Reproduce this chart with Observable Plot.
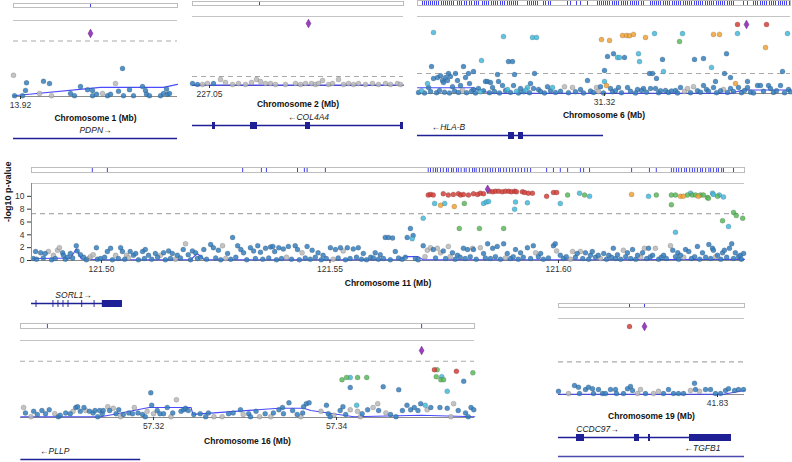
<!DOCTYPE html>
<html><head><meta charset="utf-8">
<script src="https://cdn.jsdelivr.net/npm/d3@7"></script>
<script src="https://cdn.jsdelivr.net/npm/@observablehq/plot@0.6"></script>
<style>
body{margin:0;background:#fff;}
#chart{position:relative;width:792px;height:462px;overflow:hidden;background:#fff;}
#chart svg{position:absolute;background:transparent;overflow:visible;max-width:none;}
</style></head><body><div id="chart"></div>
<script>
// ---------------- DATA ----------------
// SNP rows: [position (Mb), -log10 p, LD bin]  LD bin: 0 r2<0.2, 1 0.2-0.4, 2 0.4-0.6, 3 0.6-0.8, 4 0.8-1, 5 no LD info
const ldBins = [0, 1, 2, 3, 4, 5];
const gwsLine = 7.3;

// Chromosome 1 (PDPN)
const chr1Domain = [13.9193, 13.9357];
const chr1YDomain = [0, 10];
const chr1Ticks = [13.92];
const chr1Snps = [[13.9193,2.8,5],[13.9194,0.1,0],[13.9202,0.1,0],[13.9205,0.8,0],[13.9206,1.8,0],[13.9219,0.4,5],[13.9223,2.0,0],[13.9229,1.7,0],[13.9231,0.1,5],[13.9250,0.4,0],[13.9254,0.1,0],[13.9260,1.3,0],[13.9267,0.9,0],[13.9272,0.8,0],[13.9272,0.1,0],[13.9276,0.3,0],[13.9282,0.4,5],[13.9287,0.1,0],[13.9290,0.3,0],[13.9295,1.7,5],[13.9298,0.7,0],[13.9302,3.7,0],[13.9303,0.1,0],[13.9309,0.9,0],[13.9313,0.1,0],[13.9322,1.3,0],[13.9325,0.8,0],[13.9326,0.3,0],[13.9329,0.1,0],[13.9340,0.1,0],[13.9343,0.4,0],[13.9346,1.0,0],[13.9347,0.3,0],[13.9349,0.4,0]];
const chr1Lead = [[13.9270, 8.3]];
const chr1Bar = [13.9270];
const chr1Recomb = [[13.9193,1],[13.9280,12],[13.9343,12],[13.9357,16]];
const chr1Genes = [{name:"PDPN", strand:"+", start:13.9193, end:13.9357, labelAt:13.9275, exons:[]}];

// Chromosome 2 (COL4A4)
const chr2Domain = [227.0483, 227.0694];
const chr2YDomain = [0, 56];
const chr2Ticks = [227.05];
const chr2Snps = [[227.0483,1.6,0],[227.0488,0.8,0],[227.0493,0.8,5],[227.0498,1.6,5],[227.0504,1.6,0],[227.0511,4.9,5],[227.0516,2.4,5],[227.0523,0.8,5],[227.0529,1.6,5],[227.0536,0.8,5],[227.0542,2.4,5],[227.0547,4.9,5],[227.0551,3.2,5],[227.0556,1.6,5],[227.0561,1.6,5],[227.0566,0.8,5],[227.0576,0.8,5],[227.0586,1.6,5],[227.0591,0.8,5],[227.0596,1.6,5],[227.0602,1.6,5],[227.0606,0.8,5],[227.0609,1.6,5],[227.0613,4.1,5],[227.0619,0.8,5],[227.0623,1.6,5],[227.0629,4.9,5],[227.0634,0.8,5],[227.0639,1.6,5],[227.0644,0.8,5],[227.0649,1.6,5],[227.0656,0.8,5],[227.0663,1.6,5],[227.0669,0.8,5],[227.0676,1.6,5],[227.0681,0.8,5],[227.0688,1.6,5],[227.0691,0.8,5]];
const chr2Lead = [[227.0599, 50.3]];
const chr2Bar = [227.0550];
const chr2Recomb = [[227.0483,0.5],[227.0694,0.5]];
const chr2Genes = [{name:"COL4A4", strand:"-", start:227.0483, end:227.0694, labelAt:227.0599, exons:[[227.0503,227.0506],[227.0541,227.0548],[227.0596,227.0601],[227.0691,227.0694]]}];

// Chromosome 6 (HLA-B)
const chr6Domain = [31.3013, 31.3386];
const chr6YDomain = [0, 28];
const chr6Ticks = [31.32];
const chr6Snps = [
[31.3029,22.2,1],[31.3099,20.7,1],[31.3128,20.4,1],[31.3132,20.4,1],[31.3197,19.6,3],[31.3205,19.3,3],[31.3218,21.1,3],[31.3222,21.1,3],[31.3225,21.0,3],[31.3229,21.5,3],[31.3241,20.4,3],[31.3250,21.8,1],[31.3278,21.8,1],[31.3275,18.9,2],[31.3309,21.5,3],[31.3315,21.5,3],[31.3333,21.8,1],[31.3333,25.1,4],[31.3362,25.1,4],[31.3361,16.7,3],[31.3383,21.8,1],
[31.3203,13.5,0],[31.3209,14.5,0],[31.3213,13.1,1],[31.3215,13.1,1],[31.3220,13.1,0],[31.3234,14.5,1],[31.3235,11.6,1],[31.3258,12.4,0],[31.3290,12.4,0],[31.3299,12.7,0],[31.3322,14.5,0],[31.3307,9.5,1],[31.3200,8.4,0],[31.3077,12.0,1],[31.3104,11.6,0],[31.3108,11.6,0],[31.3027,9.8,0],[31.3059,9.8,0],[31.3069,8.0,0],[31.3110,6.9,0],[31.3130,7.3,0],[31.3245,7.3,0],[31.3248,7.3,0],[31.3259,8.0,1],[31.3378,8.0,0],[31.3320,7.3,0],[31.3326,5.8,0],[31.3331,3.6,3],[31.3202,2.9,3],[31.3200,4.4,1],[31.3183,4.7,0],[31.3252,5.5,0],[31.3343,4.4,0],[31.3311,4.4,0],
[31.3023,3.6,1],[31.3024,2.2,0],[31.3029,5.5,0],[31.3033,5.8,0],[31.3036,6.5,0],[31.3038,4.7,0],[31.3039,4.0,0],[31.3041,5.8,0],[31.3043,4.7,0],[31.3044,7.3,0],[31.3046,6.2,0],[31.3048,2.5,0],[31.3051,7.3,0],[31.3053,4.7,0],[31.3056,2.9,0],[31.3061,5.8,0],[31.3065,3.6,0],[31.3064,7.3,0],[31.3069,1.5,0],[31.3074,1.8,0],[31.3081,4.4,0],[31.3083,4.4,0],[31.3086,4.0,0],[31.3088,2.2,0],[31.3093,6.9,0],[31.3094,4.4,0],[31.3098,2.9,0],[31.3103,1.5,1],[31.3109,2.9,0],[31.3116,1.8,0],[31.3123,2.2,1],[31.3126,3.6,0],[31.3129,1.8,0],[31.3134,1.5,0],[31.3143,2.5,0],[31.3148,2.2,1],[31.3160,2.5,5],[31.3168,2.2,5],[31.3176,1.5,0],[31.3192,2.2,5],[31.3196,2.5,0],[31.3206,1.8,0],[31.3214,2.2,0],[31.3223,2.2,0],[31.3233,1.5,0],[31.3239,1.8,0],[31.3246,1.8,0],[31.3251,1.8,0],[31.3261,1.1,0],[31.3271,1.1,0],[31.3276,2.2,0],[31.3283,1.8,5],[31.3289,2.5,5],[31.3299,2.9,0],[31.3302,1.5,0],[31.3309,2.2,0],[31.3319,1.5,5],[31.3326,1.8,0],[31.3334,2.2,0],[31.3343,2.2,0],[31.3353,2.9,0],[31.3356,2.9,0],[31.3364,2.9,0],[31.3366,1.8,0],[31.3376,2.9,0],[31.3384,1.5,0],
[31.3014,0.4,0],[31.3017,1.0,1],[31.3020,0.2,0],[31.3026,0.7,0],[31.3032,0.3,0],[31.3035,1.1,0],[31.3040,0.5,0],[31.3045,0.2,0],[31.3050,0.9,0],[31.3054,0.4,0],[31.3058,1.2,5],[31.3062,0.3,0],[31.3067,0.8,0],[31.3071,0.2,0],[31.3076,0.6,1],[31.3079,1.0,0],[31.3085,0.3,0],[31.3090,0.7,0],[31.3095,0.2,0],[31.3101,1.1,0],[31.3106,0.4,0],[31.3112,0.8,1],[31.3114,0.2,0],[31.3119,0.6,0],[31.3121,1.2,1],[31.3125,0.3,0],[31.3136,0.7,0],[31.3140,0.2,0],[31.3146,1.0,0],[31.3151,0.4,0],[31.3156,0.8,0],[31.3164,0.3,0],[31.3171,0.6,0],[31.3179,0.2,0],[31.3186,0.9,0],[31.3189,0.4,0],[31.3194,0.7,5],[31.3199,0.2,0],[31.3208,0.6,0],[31.3211,1.0,0],[31.3217,0.3,0],[31.3226,0.8,0],[31.3231,0.2,0],[31.3237,1.1,0],[31.3242,0.5,0],[31.3254,0.3,0],[31.3256,1.0,0],[31.3264,0.4,0],[31.3267,0.9,0],[31.3273,0.2,0],[31.3280,0.7,5],[31.3286,0.3,0],[31.3293,1.0,0],[31.3296,0.5,0],[31.3304,0.8,0],[31.3312,0.3,0],[31.3316,1.0,0],[31.3323,0.4,0],[31.3329,0.7,0],[31.3337,0.3,0],[31.3340,1.1,0],[31.3346,0.5,0],[31.3349,0.2,0],[31.3359,0.8,0],[31.3369,0.4,0],[31.3372,1.0,0],[31.3380,0.3,0],[31.3386,0.6,0]];
const chr6Lead = [[31.3342, 25.1]];
const chr6Bar = [31.3018,31.3020,31.3022,31.3024,31.3026,31.3028,31.3030,31.3032,31.3034,31.3037,31.3039,31.3041,31.3043,31.3045,31.3047,31.3049,31.3053,31.3055,31.3057,31.3060,31.3062,31.3065,31.3067,31.3070,31.3072,31.3074,31.3078,31.3080,31.3082,31.3084,31.3087,31.3089,31.3091,31.3093,31.3096,31.3098,31.3100,31.3103,31.3105,31.3107,31.3109,31.3111,31.3113,31.3123,31.3125,31.3127,31.3129,31.3131,31.3133,31.3139,31.3141,31.3144,31.3146,31.3163,31.3166,31.3172,31.3176,31.3183,31.3193,31.3195,31.3197,31.3199,31.3201,31.3203,31.3205,31.3208,31.3210,31.3212,31.3214,31.3217,31.3219,31.3221,31.3223,31.3226,31.3228,31.3230,31.3232,31.3234,31.3237,31.3239,31.3246,31.3248,31.3250,31.3252,31.3254,31.3256,31.3259,31.3261,31.3263,31.3265,31.3268,31.3270,31.3272,31.3274,31.3276,31.3279,31.3281,31.3283,31.3285,31.3287,31.3290,31.3292,31.3294,31.3296,31.3298,31.3301,31.3303,31.3305,31.3307,31.3309,31.3312,31.3314,31.3316,31.3318,31.3320,31.3323,31.3325,31.3327,31.3329,31.3339,31.3343,31.3349,31.3351,31.3353,31.3356,31.3358,31.3360,31.3362,31.3365,31.3367,31.3369,31.3371,31.3374,31.3376,31.3378,31.3380,31.3382,31.3385];
const chr6Recomb = [[31.3013,7.5],[31.3068,7.5],[31.3086,0.4],[31.3326,0.4],[31.3339,4.6],[31.3386,4.6]];
const chr6Genes = [{name:"HLA-B", strand:"-", start:31.3013, end:31.3199, labelAt:31.3044, exons:[[31.3104,31.3110],[31.3114,31.3119]]}];

// Chromosome 11 (SORL1) — main panel
const chr11Domain = [121.4847, 121.6407];
const chr11YDomain = [0, 12];
const chr11Ticks = [121.50, 121.55, 121.60];
const chr11YTicks = [0, 2, 4, 6, 8, 10];
const chr11Snps = [
[121.5715,10.2,4],[121.5720,10.3,4],[121.5726,10.2,4],[121.5748,10.4,4],[121.5759,10.2,4],[121.5770,10.3,4],[121.5781,10.4,4],[121.5786,10.2,4],[121.5792,10.3,4],[121.5803,10.2,4],[121.5814,10.4,4],[121.5823,10.3,4],[121.5829,10.5,4],[121.5836,10.4,4],[121.5849,10.8,4],[121.5856,10.7,4],[121.5862,10.8,4],[121.5869,10.8,4],[121.5877,10.7,4],[121.5884,10.8,4],[121.5891,10.8,4],[121.5897,10.7,4],[121.5904,10.8,4],[121.5908,10.7,4],[121.5921,10.7,4],[121.5926,10.6,4],[121.5934,10.5,4],[121.5943,10.5,4],[121.5974,10.0,4],[121.5989,10.6,4],[121.5996,10.6,4],
[121.5729,8.9,1],[121.5742,8.6,3],[121.5751,8.9,1],[121.5772,8.4,3],[121.5794,8.9,2],[121.5836,8.9,1],[121.5842,9.1,1],[121.5847,9.2,1],[121.5904,8.0,1],[121.5906,9.1,1],[121.5932,9.0,1],[121.6004,8.9,1],[121.6020,10.2,2],[121.6046,10.5,1],[121.6057,10.2,2],[121.6068,10.0,1],[121.6160,10.3,3],[121.6197,10.0,1],[121.6214,10.2,2],
[121.6247,10.2,2],[121.6256,10.2,2],[121.6267,10.0,3],[121.6273,10.0,3],[121.6282,10.2,2],[121.6289,10.5,1],[121.6293,10.2,2],[121.6300,10.2,2],[121.6306,10.0,3],[121.6311,10.2,2],[121.6317,10.2,2],[121.6326,9.8,2],[121.6328,9.7,2],[121.6337,10.5,1],[121.6339,10.3,1],[121.6348,10.0,2],[121.6352,10.2,1],[121.6361,9.9,1],
[121.6247,8.7,2],[121.6383,7.5,2],[121.6389,7.0,2],[121.6403,6.6,2],[121.6359,6.2,2],[121.6372,5.3,1],[121.6256,4.4,1],[121.5704,6.6,1],[121.5783,5.0,2],[121.5827,5.0,2],[121.5880,5.0,2],
[121.4851,0.3,0],[121.4856,1.4,0],[121.4858,0.2,0],[121.4867,1.2,0],[121.4873,0.4,0],[121.4877,1.1,0],[121.4884,1.4,5],[121.4891,0.1,0],[121.4895,0.8,5],[121.4899,0.3,0],[121.4904,1.6,5],[121.4908,2.0,5],[121.4915,1.2,0],[121.4917,0.8,0],[121.4921,0.2,0],[121.4926,0.5,0],[121.4932,1.1,0],[121.4937,0.4,0],[121.4945,2.3,0],[121.4947,1.5,0],[121.4954,0.9,0],[121.4961,0.5,0],[121.4967,0.1,0],[121.4972,0.3,5],[121.4976,0.6,5],[121.4982,0.9,5],[121.4989,2.0,0],[121.4991,0.2,0],[121.4998,0.3,0],[121.5007,0.5,0],[121.5013,1.4,0],[121.5020,1.9,0],[121.5024,0.1,0],[121.5031,0.8,5],[121.5037,0.3,0],[121.5042,2.0,0],[121.5046,1.4,0],[121.5051,0.2,0],[121.5055,0.8,5],[121.5059,0.4,5],[121.5063,1.4,0],[121.5070,0.8,0],[121.5075,1.1,0],[121.5081,0.1,0],[121.5090,1.4,0],[121.5094,0.3,0],[121.5096,1.7,0],[121.5103,0.8,0],[121.5110,0.2,0],[121.5118,1.1,0],[121.5123,0.5,0],[121.5129,0.8,5],[121.5136,1.2,0],[121.5140,0.1,0],[121.5147,1.5,0],[121.5151,0.3,0],[121.5155,1.1,0],[121.5162,0.2,5],[121.5166,0.8,0],[121.5173,0.4,0],[121.5179,1.7,0],[121.5184,2.6,5],[121.5190,0.9,0],[121.5195,0.1,0],[121.5199,1.5,0],[121.5206,1.2,0],[121.5210,0.3,0],[121.5217,0.5,0],[121.5224,1.7,0],[121.5230,0.2,0],[121.5239,2.5,0],[121.5245,2.0,0],[121.5250,0.4,0],[121.5256,1.6,0],[121.5261,0.1,0],[121.5265,2.3,5],[121.5272,0.3,5],[121.5276,1.1,0],[121.5283,0.2,0],[121.5287,3.6,0],[121.5294,0.5,0],[121.5298,2.3,0],[121.5305,1.7,0],[121.5311,1.2,0],[121.5318,0.1,0],[121.5326,2.0,0],[121.5333,1.5,0],[121.5337,0.3,0],[121.5342,2.3,0],[121.5348,1.3,0],[121.5353,0.2,0],[121.5359,1.9,0],[121.5366,0.4,0],[121.5370,2.1,0],[121.5375,2.2,0],[121.5379,1.4,0],[121.5383,0.1,0],[121.5388,2.0,0],[121.5394,0.3,0],[121.5398,1.8,0],[121.5405,0.5,5],[121.5409,2.2,0],[121.5416,0.2,0],[121.5424,2.3,0],[121.5429,1.7,0],[121.5433,0.1,0],[121.5439,1.2,5],[121.5446,0.4,0],[121.5450,2.2,0],[121.5457,0.2,0],[121.5461,1.6,0],[121.5468,0.5,0],[121.5474,1.2,0],[121.5481,0.1,0],[121.5485,0.8,0],[121.5492,0.3,0],[121.5501,2.0,0],[121.5507,0.2,5],[121.5512,1.7,0],[121.5518,0.4,0],[121.5523,2.0,0],[121.5529,1.5,5],[121.5534,0.1,0],[121.5538,2.0,0],[121.5544,0.3,0],[121.5551,1.8,0],[121.5558,0.5,0],[121.5562,2.0,0],[121.5569,0.2,0],[121.5573,1.1,0],[121.5580,0.1,0],[121.5589,0.5,0],[121.5595,0.4,0],[121.5599,1.2,0],[121.5606,0.2,0],[121.5610,0.9,0],[121.5617,0.3,0],[121.5621,3.6,0],[121.5628,3.6,0],[121.5632,0.1,0],[121.5637,3.5,0],[121.5643,1.4,0],[121.5650,0.4,0],[121.5658,0.2,0],[121.5665,0.5,0],[121.5669,3.6,0],[121.5676,5.0,0],[121.5680,3.4,1],[121.5682,3.9,0],[121.5687,0.3,0],[121.5693,0.1,0],[121.5704,2.3,0],[121.5708,0.6,5],[121.5713,1.6,5],[121.5720,2.0,5],[121.5726,1.7,0],[121.5731,0.4,0],[121.5735,1.9,5],[121.5742,1.2,5],[121.5748,1.5,0],[121.5753,0.3,0],[121.5759,2.2,5],[121.5763,0.6,5],[121.5768,1.2,0],[121.5774,0.2,0],[121.5779,0.8,0],[121.5785,0.5,0],[121.5792,1.9,0],[121.5796,0.3,0],[121.5801,1.7,0],[121.5807,0.6,0],[121.5812,1.9,5],[121.5814,1.7,0],[121.5820,0.2,0],[121.5829,2.0,5],[121.5836,1.1,0],[121.5840,0.4,0],[121.5845,2.6,0],[121.5851,0.3,0],[121.5856,1.9,0],[121.5862,0.6,0],[121.5866,2.2,0],[121.5873,0.2,0],[121.5880,2.6,0],[121.5884,0.4,5],[121.5888,1.1,0],[121.5895,0.3,0],[121.5901,0.6,0],[121.5906,1.7,0],[121.5912,0.2,0],[121.5917,1.2,0],[121.5923,0.5,0],[121.5932,2.0,0],[121.5939,0.3,0],[121.5945,2.3,0],[121.5950,1.2,5],[121.5956,0.6,0],[121.5961,1.1,0],[121.5967,0.2,0],[121.5978,0.4,0],[121.5989,2.3,0],[121.5993,2.6,0],[121.5996,1.5,5],[121.6004,0.8,0],[121.6011,0.3,0],[121.6017,0.6,0],[121.6026,0.2,5],[121.6031,1.4,5],[121.6037,0.5,0],[121.6041,1.1,0],[121.6048,1.4,5],[121.6053,0.3,0],[121.6059,1.2,0],[121.6066,0.2,0],[121.6070,0.8,0],[121.6074,1.4,0],[121.6081,0.5,0],[121.6087,0.8,0],[121.6092,0.3,5],[121.6099,1.1,0],[121.6105,0.2,0],[121.6110,0.8,0],[121.6116,0.5,0],[121.6120,1.9,0],[121.6125,0.3,0],[121.6129,0.9,0],[121.6136,0.2,0],[121.6142,1.6,5],[121.6147,0.6,0],[121.6151,1.2,0],[121.6158,0.3,0],[121.6162,1.7,0],[121.6169,0.2,0],[121.6173,0.8,0],[121.6180,0.5,5],[121.6184,1.2,0],[121.6188,1.9,5],[121.6193,0.3,0],[121.6197,1.9,0],[121.6201,0.6,0],[121.6206,0.8,0],[121.6212,1.9,5],[121.6219,0.2,0],[121.6225,0.5,0],[121.6230,0.8,0],[121.6236,0.3,0],[121.6245,2.3,5],[121.6250,1.6,0],[121.6256,0.6,0],[121.6261,1.2,0],[121.6263,0.2,0],[121.6267,0.8,0],[121.6274,0.5,5],[121.6278,1.7,0],[121.6285,1.4,0],[121.6291,0.3,0],[121.6298,0.6,0],[121.6304,2.2,0],[121.6309,0.2,0],[121.6315,1.2,0],[121.6322,0.5,0],[121.6329,2.5,0],[121.6333,0.3,0],[121.6337,1.9,0],[121.6339,1.6,0],[121.6344,0.6,5],[121.6348,0.8,0],[121.6355,0.2,0],[121.6359,1.2,0],[121.6363,1.6,0],[121.6368,0.5,0],[121.6374,1.9,0],[121.6379,2.6,0],[121.6383,0.3,0],[121.6387,1.2,0],[121.6394,0.6,0],[121.6398,0.8,0],[121.6400,0.2,0],[121.6405,1.1,0]];
const chr11Lead = [[121.5845, 11.1]];
const chr11Bar = [121.4980,121.5013,121.5309,121.5350,121.5361,121.5429,121.5444,121.5450,121.5490,121.5715,121.5720,121.5726,121.5731,121.5735,121.5742,121.5748,121.5755,121.5759,121.5766,121.5770,121.5777,121.5781,121.5787,121.5794,121.5798,121.5805,121.5812,121.5816,121.5820,121.5827,121.5834,121.5840,121.5845,121.5851,121.5856,121.5862,121.5869,121.5873,121.5880,121.5886,121.5893,121.5899,121.5906,121.5912,121.5919,121.5926,121.5932,121.5939,121.5974,121.5989,121.6004,121.6020,121.6048,121.6055,121.6068,121.6160,121.6199,121.6214,121.6247,121.6252,121.6258,121.6263,121.6269,121.6276,121.6280,121.6287,121.6293,121.6298,121.6304,121.6311,121.6315,121.6322,121.6329,121.6333,121.6339,121.6346,121.6350,121.6357,121.6361,121.6383];
const chr11Recomb = [[121.4847,2.5],[121.4910,3],[121.4932,3],[121.4945,15],[121.4956,2],[121.4998,1],[121.5195,1],[121.5210,9],[121.5225,1],[121.5654,1],[121.5665,5],[121.5693,5],[121.5704,1],[121.6092,1],[121.6407,1.5]];
const chr11Genes = [{name:"SORL1", strand:"+", start:121.4847, end:121.5046, labelAt:121.4939, exons:[[121.4857,121.4859],[121.4894,121.4896],[121.4905,121.4907],[121.4916,121.4918],[121.4927,121.4929],[121.4957,121.4959],[121.4984,121.4986],[121.5002,121.5046]]}];

// Chromosome 16 (PLLP)
const chr16Domain = [57.30546, 57.35508];
const chr16YDomain = [0, 10];
const chr16Ticks = [57.32, 57.34];
const chr16Snps = [[57.3058,1.3,5],[57.3060,0.6,0],[57.3066,0.1,5],[57.3069,0.8,0],[57.3073,0.4,0],[57.3078,0.9,0],[57.3082,0.5,0],[57.3086,1.0,0],[57.3092,0.5,5],[57.3096,0.1,0],[57.3098,0.3,0],[57.3104,0.6,0],[57.3109,0.5,0],[57.3112,0.8,5],[57.3115,1.3,0],[57.3117,1.4,0],[57.3120,0.8,0],[57.3124,1.3,0],[57.3126,0.9,5],[57.3130,0.8,0],[57.3134,0.6,0],[57.3136,0.9,0],[57.3139,0.1,0],[57.3141,0.9,0],[57.3144,0.5,0],[57.3145,0.9,0],[57.3150,1.4,5],[57.3152,0.9,0],[57.3156,1.2,5],[57.3159,0.5,0],[57.3162,1.0,0],[57.3164,0.1,5],[57.3167,0.4,0],[57.3173,0.6,0],[57.3177,0.5,0],[57.3179,1.3,5],[57.3183,0.6,0],[57.3188,0.4,0],[57.3191,0.1,0],[57.3193,0.8,5],[57.3197,3.2,0],[57.3198,1.6,0],[57.3200,0.5,5],[57.3204,0.9,0],[57.3207,0.5,0],[57.3211,0.5,0],[57.3215,1.3,0],[57.3219,0.1,5],[57.3221,0.6,0],[57.3225,2.3,5],[57.3230,0.8,0],[57.3233,1.0,0],[57.3235,1.2,0],[57.3238,0.9,0],[57.3244,0.4,0],[57.3251,0.5,0],[57.3257,0.1,0],[57.3260,0.6,0],[57.3266,0.1,5],[57.3275,0.1,5],[57.3282,0.5,0],[57.3287,0.6,0],[57.3295,1.0,0],[57.3298,0.4,5],[57.3304,0.5,0],[57.3306,0.1,0],[57.3312,0.8,0],[57.3316,0.1,5],[57.3322,0.5,0],[57.3328,0.1,5],[57.3331,0.6,0],[57.3337,1.0,0],[57.3341,1.3,0],[57.3342,0.5,0],[57.3348,1.9,0],[57.3352,0.9,0],[57.3357,0.4,0],[57.3361,0.1,5],[57.3363,0.6,0],[57.3364,1.4,0],[57.3367,1.8,0],[57.3370,1.9,0],[57.3383,0.8,5],[57.3389,1.6,0],[57.3391,0.5,0],[57.3393,0.1,0],[57.3397,0.3,5],[57.3404,0.9,0],[57.3406,4.9,2],[57.3407,1.4,0],[57.3410,0.4,0],[57.3411,5.2,2],[57.3415,1.0,5],[57.3415,5.2,1],[57.3415,3.9,0],[57.3422,1.6,1],[57.3423,0.8,5],[57.3423,5.2,2],[57.3426,0.1,5],[57.3428,0.5,0],[57.3433,5.2,2],[57.3434,1.0,0],[57.3440,1.3,5],[57.3445,1.8,5],[57.3446,0.9,0],[57.3451,4.0,0],[57.3454,0.6,5],[57.3459,0.4,0],[57.3465,0.1,0],[57.3468,3.6,0],[57.3472,0.9,0],[57.3477,1.6,0],[57.3481,1.0,0],[57.3485,1.3,0],[57.3489,0.9,0],[57.3492,1.8,0],[57.3497,1.6,1],[57.3499,1.0,5],[57.3503,1.3,0],[57.3507,6.2,4],[57.3510,6.2,2],[57.3509,5.3,2],[57.3513,1.3,0],[57.3514,4.9,2],[57.3515,5.3,1],[57.3517,4.9,2],[57.3521,3.4,1],[57.3521,1.2,0],[57.3525,0.1,5],[57.3528,1.8,5],[57.3531,6.0,4],[57.3533,0.9,0],[57.3539,4.7,0],[57.3541,0.6,0],[57.3544,0.1,0],[57.3547,1.3,0],[57.3549,5.8,2],[57.3550,1.0,0]];
const chr16Lead = [[57.3493, 8.7]];
const chr16Bar = [57.3084, 57.3493];
const chr16Recomb = [[57.3055,1],[57.3142,1],[57.3156,4],[57.3195,13],[57.3241,13],[57.3243,4],[57.3337,12],[57.3364,12],[57.3372,9],[57.3419,1],[57.3492,3],[57.3551,1]];
const chr16Genes = [{name:"PLLP", strand:"-", start:57.3055, end:57.3186, labelAt:57.3092, exons:[]}];

// Chromosome 19 (CCDC97 / TGFB1)
const chr19Domain = [41.8141, 41.8327];
const chr19YDomain = [0, 17];
const chr19Ticks = [41.83];
const chr19Snps = [[41.8141,0.7,0],[41.8151,0.2,5],[41.8157,2.0,0],[41.8161,1.6,0],[41.8162,0.2,0],[41.8168,1.1,0],[41.8171,1.6,0],[41.8175,1.3,0],[41.8176,0.2,0],[41.8181,1.1,0],[41.8185,0.2,0],[41.8188,0.2,0],[41.8193,1.1,0],[41.8198,1.1,0],[41.8199,0.2,0],[41.8206,0.2,0],[41.8210,1.3,0],[41.8213,1.8,0],[41.8215,0.9,0],[41.8220,0.2,5],[41.8223,1.1,5],[41.8228,0.2,0],[41.8236,0.2,5],[41.8241,0.7,5],[41.8246,0.2,0],[41.8251,1.1,0],[41.8256,0.2,0],[41.8261,0.2,0],[41.8266,0.2,0],[41.8273,0.9,5],[41.8277,2.5,0],[41.8278,1.1,0],[41.8282,0.7,5],[41.8288,1.1,0],[41.8293,1.1,0],[41.8298,0.2,0],[41.8303,0.2,0],[41.8308,0.9,0],[41.8311,1.3,0],[41.8317,0.9,0],[41.8321,1.1,0],[41.8326,1.1,0],[41.8212,15.2,4]];
const chr19Lead = [[41.8227, 15.2]];
const chr19Bar = [41.8212, 41.8227];
const chr19Recomb = [[41.8141,0.3],[41.8306,0.3],[41.8327,5.3]];
const chr19Genes = [
  {name:"CCDC97", strand:"+", start:41.8141, end:41.8314, labelAt:41.8180, exons:[[41.8159,41.8167],[41.8217,41.8222],[41.8231,41.8233],[41.8272,41.8314]]},
  {name:"TGFB1", strand:"-", start:41.8141, end:41.8327, labelAt:41.8285, exons:[]}
];

// ---------------- DRAWING ----------------
const LD_COLORS = ["#357ebd", "#46b8da", "#5cb85c", "#eea236", "#d43f3a", "#b8b8b8"];
const GENE_COLORS = ["#1f1f96", "#4a4ab2"];
const FONT = {fontFamily: '"Liberation Sans", Arial, Helvetica, sans-serif', fontSize: "8.5px", background: "transparent", overflow: "visible", color: "#222"};
const root = document.getElementById("chart");
function place(svg, left, top) { svg.style.left = left + "px"; svg.style.top = top + "px"; root.appendChild(svg); }

const tallDiamond = {
  draw(context, size) {
    const s = Math.sqrt(size), w = s * 0.42, h = s * 0.76;
    context.moveTo(0, -h); context.lineTo(w, 0); context.lineTo(0, h); context.lineTo(-w, 0); context.closePath();
  }
};
const rank = (ld) => ld === 5 ? -1 : ld;

function scatterPanel(c) {
  const ml = c.yTicks ? 40 : 4, mr = 4, mt = 4, mb = 34;
  const ymax = c.ydomain[1];
  const pts = c.snps.map(([pos, logp, ld]) => ({pos, logp, ld})).sort((a, b) => rank(a.ld) - rank(b.ld));
  const marks = [
    Plot.ruleY([ymax], {stroke: "#c4c4c4"}),
    Plot.ruleY([gwsLine], {stroke: "#aaaaaa", strokeDasharray: "5,4", strokeWidth: 1.1}),
    Plot.ruleY([0], {stroke: "#8c8c8c"}),
    Plot.line(c.recomb, {x: d => d[0], y: d => d[1] * ymax / 100, stroke: "#2b2bff", strokeWidth: 1.1, strokeOpacity: 0.85}),
    Plot.dot(pts, {x: "pos", y: "logp", r: 2.5, fill: "ld", fillOpacity: 0.85, stroke: "#1a1a1a", strokeOpacity: 0.3, strokeWidth: 0.5}),
    Plot.dot(c.lead, {x: d => d[0], y: d => d[1], r: 3.2, symbol: tallDiamond, fill: "#9a3fc0", stroke: "#5e1d7a", strokeWidth: 0.5}),
    Plot.axisX({ticks: c.ticks, tickFormat: d3.format(".2f"), tickSize: 3, tickPadding: 2, label: null, color: "#333"}),
    Plot.text([c.title], {frameAnchor: "bottom", lineAnchor: "middle", dy: c.titleDy, fontWeight: "bold", fill: "#111"})
  ];
  if (c.yTicks) marks.push(
    Plot.ruleX([c.xdomain[0]], {stroke: "#8c8c8c"}),
    Plot.axisY({ticks: c.yTicks, tickSize: 4, tickPadding: 3, label: null, color: "#333"}),
    Plot.text([c.yLabel], {frameAnchor: "left", lineAnchor: "middle", rotate: -90, dx: -23, fontWeight: "bold", fontSize: 9, fill: "#111"})
  );
  const svg = Plot.plot({
    width: c.px[1] - c.px[0] + ml + mr, height: c.py[1] - c.py[0] + mt + mb,
    marginLeft: ml, marginRight: mr, marginTop: mt, marginBottom: mb,
    x: {domain: c.xdomain, axis: null}, y: {domain: c.ydomain, axis: null},
    color: {type: "ordinal", domain: ldBins, range: LD_COLORS},
    style: FONT, marks
  });
  place(svg, c.px[0] - ml, c.py[0] - mt);
}

function barPanel(c) {
  const svg = Plot.plot({
    width: c.px[1] - c.px[0], height: c.bar[1] - c.bar[0], margin: 0,
    x: {domain: c.xdomain, axis: null}, y: {axis: null}, style: FONT,
    marks: [Plot.ruleX(c.barPos, {stroke: "#4040ee", strokeWidth: 1}), Plot.frame({stroke: "#bdbdbd"})]
  });
  place(svg, c.px[0], c.bar[0]);
}

function geneRow(c, g, lineY, color) {
  const svg = Plot.plot({
    width: c.px[1] - c.px[0], height: 16, margin: 0,
    x: {domain: c.xdomain, axis: null},
    y: {type: "point", domain: ["name", "body"], range: [3.5, 12], padding: 0, axis: null},
    style: FONT,
    marks: [
      Plot.ruleY([g], {x1: "start", x2: "end", y: () => "body", stroke: color, strokeWidth: 1.5}),
      Plot.ruleY(g.exons, {x1: d => d[0], x2: d => d[1], y: () => "body", stroke: color, strokeWidth: 7}),
      Plot.text([g], {x: "labelAt", y: () => "name", text: d => d.strand === "+" ? d.name + "\u2192" : "\u2190" + d.name, fontStyle: "italic", fill: "#222"})
    ]
  });
  place(svg, c.px[0], lineY - 12);
}

const panels = [
  {title: "Chromosome 1 (Mb)", px: [13, 177], py: [20, 96], bar: [3, 7], titleDy: 22, xdomain: chr1Domain, ydomain: chr1YDomain, ticks: chr1Ticks, snps: chr1Snps, lead: chr1Lead, barPos: chr1Bar, recomb: chr1Recomb, genes: chr1Genes, geneY: [138]},
  {title: "Chromosome 2 (Mb)", px: [192, 403], py: [16, 85], bar: [1, 5], titleDy: 19, xdomain: chr2Domain, ydomain: chr2YDomain, ticks: chr2Ticks, snps: chr2Snps, lead: chr2Lead, barPos: chr2Bar, recomb: chr2Recomb, genes: chr2Genes, geneY: [125]},
  {title: "Chromosome 6 (Mb)", px: [417, 790], py: [16, 93], bar: [0, 5], titleDy: 22, xdomain: chr6Domain, ydomain: chr6YDomain, ticks: chr6Ticks, snps: chr6Snps, lead: chr6Lead, barPos: chr6Bar, recomb: chr6Recomb, genes: chr6Genes, geneY: [135]},
  {title: "Chromosome 11 (Mb)", px: [31, 744], py: [183, 260], bar: [167, 172], titleDy: 23, xdomain: chr11Domain, ydomain: chr11YDomain, ticks: chr11Ticks, yTicks: chr11YTicks, yLabel: "-log10 p-value", snps: chr11Snps, lead: chr11Lead, barPos: chr11Bar, recomb: chr11Recomb, genes: chr11Genes, geneY: [303]},
  {title: "Chromosome 16 (Mb)", px: [20, 474], py: [340, 417], bar: [323, 328], titleDy: 24, xdomain: chr16Domain, ydomain: chr16YDomain, ticks: chr16Ticks, snps: chr16Snps, lead: chr16Lead, barPos: chr16Bar, recomb: chr16Recomb, genes: chr16Genes, geneY: [459]},
  {title: "Chromosome 19 (Mb)", px: [558, 744], py: [318, 394], bar: [303, 307], titleDy: 22, xdomain: chr19Domain, ydomain: chr19YDomain, ticks: chr19Ticks, snps: chr19Snps, lead: chr19Lead, barPos: chr19Bar, recomb: chr19Recomb, genes: chr19Genes, geneY: [437, 456]}
];

for (const c of panels) {
  barPanel(c);
  scatterPanel(c);
  c.genes.forEach((g, i) => geneRow(c, g, c.geneY[i], GENE_COLORS[i]));
}
</script></body></html>
